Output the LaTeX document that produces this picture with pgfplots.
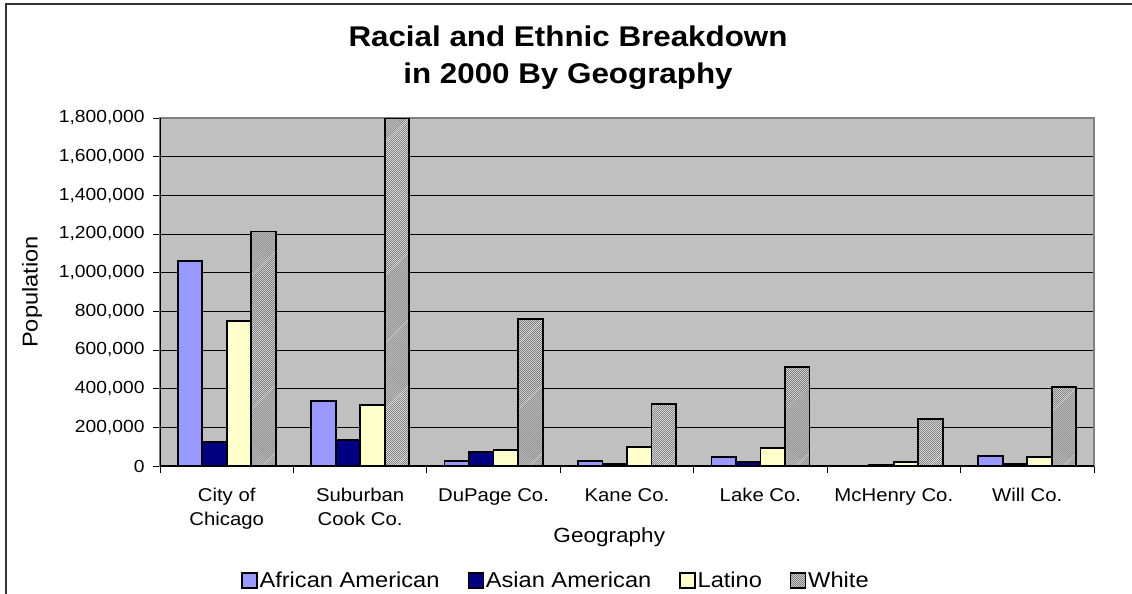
\documentclass[border=0pt]{standalone}
\usepackage{fontspec}
\setmainfont{Liberation Sans}[FakeStretch=1.1]
\usepackage{pgfplots}
\pgfplotsset{compat=1.18}
\usetikzlibrary{patterns}
\definecolor{plotbg}{HTML}{C0C0C0}
\definecolor{afam}{HTML}{9999FF}
\definecolor{asam}{HTML}{000080}
\definecolor{lat}{HTML}{FFFFCC}
\pgfdeclarepatternformonly{finehatch}{\pgfqpoint{-1pt}{-1pt}}{\pgfqpoint{4pt}{4pt}}{\pgfqpoint{2pt}{2pt}}{%
  \pgfsetlinewidth{0.7pt}%
  \pgfpathmoveto{\pgfqpoint{0pt}{0pt}}%
  \pgfpathlineto{\pgfqpoint{2.1pt}{2.1pt}}%
  \pgfusepath{stroke}}
\begin{document}
\begin{tikzpicture}
\useasboundingbox (0,0) rectangle (1132bp,-594bp);
\draw[line width=1.5bp, black!80] (6bp,-600bp) -- (6bp,-4bp) -- (1140bp,-4bp);
\node[align=center, font=\fontsize{28.5bp}{37bp}\selectfont\bfseries] at (568bp,-58bp) {Racial and Ethnic Breakdown\\in 2000 By Geography};
\begin{axis}[
  at={(160bp,-466bp)}, anchor=south west,
  width=934bp, height=348bp, scale only axis,
  xmin=-0.5, xmax=6.5, ymin=0, ymax=1800000,
  axis background/.style={fill=plotbg},
  axis line style={draw=gray, line width=1.2bp},
  ybar=0pt, bar width=0.1837,
  ymajorgrids, grid style={black, line width=0.8bp},
  ytick={0,200000,...,1800000},
  scaled y ticks=false,
  /pgf/number format/assume math mode=true,
  yticklabel={\pgfmathprintnumber[fixed,precision=0,1000 sep={,}]{\tick}},
  tick pos=left, tick align=outside, major tick length=7bp,
  tick style={black, line width=0.8bp},
  xtick={-0.5,0.5,...,6.5}, xticklabels={},
  extra x ticks={0,1,2,3,4,5,6},
  extra x tick labels={City of\\Chicago, Suburban\\Cook Co., DuPage Co., Kane Co., Lake Co., McHenry Co., Will Co.},
  extra x tick style={major tick length=0pt, xmajorgrids=false, xticklabel style={anchor=north, yshift=-19bp}},
  xticklabel style={align=center, font=\fontsize{18.5bp}{24bp}\selectfont},
  yticklabel style={font=\fontsize{17.5bp}{21bp}\selectfont, xshift=-5bp},
  xlabel={Geography}, ylabel={Population},
  xlabel style={at={(axis description cs:0.481,-0.204)}, anchor=center, font=\fontsize{20.5bp}{24bp}\selectfont},
  ylabel style={at={(axis description cs:-0.137,0.5)}, anchor=center, rotate=0, font=\fontsize{21.5bp}{24bp}\selectfont},
  legend style={at={(axis description cs:0.424,-0.3276)}, anchor=center, draw=none, fill=none,
    legend columns=4, font=\fontsize{21.5bp}{24bp}\selectfont,
    nodes={inner xsep=2bp},
    /tikz/every even column/.append style={column sep=26bp}},
  legend image code/.code={\draw[#1, line width=1.2bp] (0bp,-8bp) rectangle (15bp,7bp);},
]
\addplot[fill=afam, draw=black, line width=1.8bp, bar shift=-0.2756] coordinates {(0,1060000) (1,338000) (2,27000) (3,24000) (4,46000) (5,2500) (6,53000)};
\addplot[fill=asam, draw=black, line width=1.8bp, bar shift=-0.0919] coordinates {(0,126000) (1,134000) (2,74000) (3,9000) (4,22000) (5,3500) (6,12000)};
\addplot[fill=lat, draw=black, line width=1.8bp, bar shift=0.0919] coordinates {(0,752000) (1,316000) (2,82000) (3,97000) (4,93000) (5,19000) (6,47000)};
\addplot[fill=white, postaction={pattern=finehatch, pattern color=black!55}, draw=black, line width=1.8bp, bar shift=0.2756] coordinates {(0,1213000) (1,1802000) (2,759000) (3,319000) (4,514000) (5,245000) (6,410000)};
\legend{African American, Asian American, Latino, White}
\draw[black, line width=1.2bp] (rel axis cs:0,1) -- (rel axis cs:0,0) -- (rel axis cs:1,0);
\end{axis}
\end{tikzpicture}
\end{document}
